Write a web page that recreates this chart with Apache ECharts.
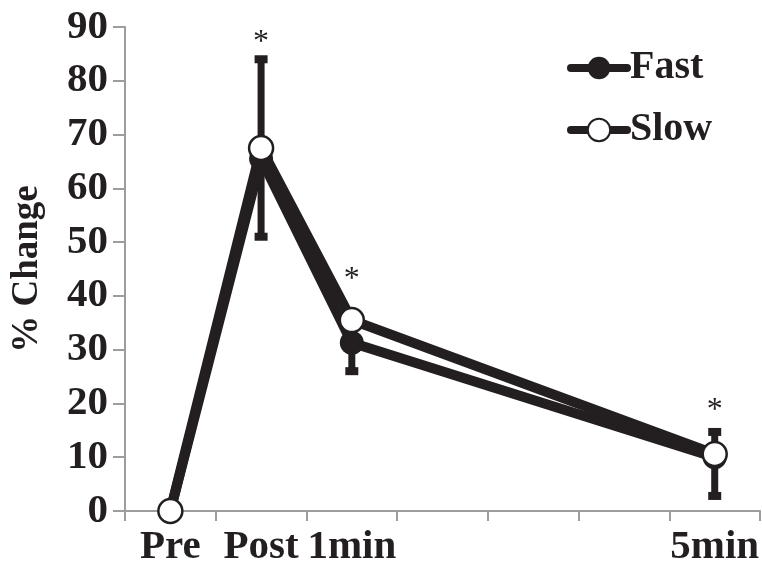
<!DOCTYPE html>
<html><head><meta charset="utf-8">
<script src="https://cdn.jsdelivr.net/npm/echarts@6/dist/echarts.min.js"></script>
<style>html,body{margin:0;padding:0;background:#fff}#c{width:762px;height:568px}</style>
</head><body><div id="c"></div>
<script>
const categories = ['Pre', 'Post', '1min', '', '', '', '5min'];
const fastValues = [0, 65.5, 31.3, null, null, null, 10];
const slowValues = [0, 67.5, 35.5, null, null, null, 10.6];
const errIndex = [1, 2, 6];
const errLow = [51, 26, 2.8];
const errHigh = [84, 31.3, 14.7];
const starIndex = [1, 2, 6];
const starValue = [88.5, 44.5, 20.2];
const yMin = 0, yMax = 90, yStep = 10;

const INK = '#231f20';
const AXIS = '#9d9d9d';
const SERIF = '"Liberation Serif", "DejaVu Serif", serif';

const errData = errIndex.map((c, i) => [c, errLow[i], errHigh[i]]);
const starData = starIndex.map((c, i) => [c, starValue[i]]);

function renderErr(params, api) {
  const x = api.value(0), lo = api.value(1), hi = api.value(2);
  const p1 = api.coord([x, lo]), p2 = api.coord([x, hi]);
  const cw = 13, ch = 8;
  return {
    type: 'group',
    children: [
      { type: 'line', shape: { x1: p1[0], y1: p1[1], x2: p2[0], y2: p2[1] }, style: { stroke: INK, lineWidth: 7 } },
      { type: 'rect', shape: { x: p1[0] - cw / 2, y: p1[1] - ch / 2, width: cw, height: ch }, style: { fill: INK } },
      { type: 'rect', shape: { x: p2[0] - cw / 2, y: p2[1] - ch / 2, width: cw, height: ch }, style: { fill: INK } }
    ]
  };
}
function renderStar(params, api) {
  const p = api.coord([api.value(0), api.value(1)]);
  return {
    type: 'text',
    x: p[0], y: p[1] + 8,
    style: { text: '*', font: 'normal 32px ' + SERIF, fill: INK, align: 'center', verticalAlign: 'middle' }
  };
}

const chart = echarts.init(document.getElementById('c'), null, { renderer: 'canvas' });
chart.setOption({
  animation: false,
  backgroundColor: '#fff',
  grid: { left: 125, right: 0, top: 27, bottom: 56, containLabel: false },
  legend: {
    orient: 'vertical', left: 562, top: 43, itemWidth: 56, itemHeight: 28, itemGap: 22,
    data: ['Fast', 'Slow'],
    lineStyle: { width: 8, cap: 'round' },
    textStyle: { fontFamily: SERIF, fontWeight: 'bold', fontSize: 40, color: INK, padding: [0, 0, 0, -2] }
  },
  xAxis: {
    type: 'category', data: categories, boundaryGap: true,
    axisLine: { lineStyle: { color: AXIS, width: 2 } },
    axisTick: { show: true, length: 10, lineStyle: { color: AXIS, width: 2 } },
    axisLabel: { interval: 0, margin: 16, fontFamily: SERIF, fontWeight: 'bold', fontSize: 41, color: INK }
  },
  yAxis: {
    type: 'value', min: yMin, max: yMax, interval: yStep,
    name: '% Change', nameLocation: 'middle', nameGap: 79,
    nameTextStyle: { fontFamily: SERIF, fontWeight: 'bold', fontSize: 37, color: INK },
    splitLine: { show: false },
    axisLine: { show: true, lineStyle: { color: AXIS, width: 2 } },
    axisTick: { show: true, length: 12, lineStyle: { color: AXIS, width: 2 } },
    axisLabel: { margin: 17, fontFamily: SERIF, fontWeight: 'bold', fontSize: 41, color: INK }
  },
  series: [
    { type: 'custom', name: 'err', renderItem: renderErr, data: errData, z: 1, silent: true },
    { type: 'custom', name: 'star', renderItem: renderStar, data: starData, z: 1, silent: true },
    {
      type: 'line', name: 'Fast', data: fastValues, connectNulls: true, z: 2,
      symbol: 'circle', symbolSize: 24,
      lineStyle: { color: INK, width: 10 },
      itemStyle: { color: INK, borderColor: INK, borderWidth: 0 }
    },
    {
      type: 'line', name: 'Slow', data: slowValues, connectNulls: true, z: 3,
      symbol: 'circle', symbolSize: 24,
      lineStyle: { color: INK, width: 10 },
      itemStyle: { color: '#fff', borderColor: INK, borderWidth: 2.5 }
    }
  ]
});
</script>
</body></html>
